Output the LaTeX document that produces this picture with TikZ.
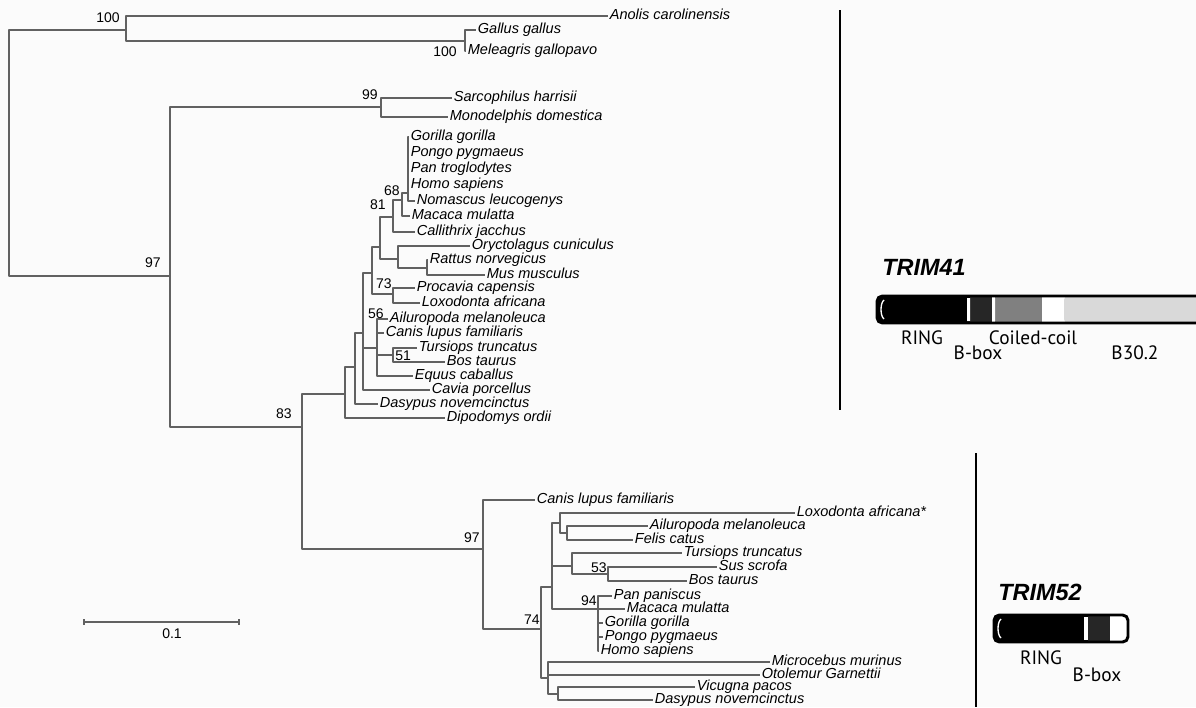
\documentclass[tikz,border=0pt]{standalone}
\usepackage{fontspec}
\setmainfont{Liberation Sans}
\newfontfamily\domfont{PT Sans}
\begin{document}
\begin{tikzpicture}[x=0.75pt, y=-0.75pt, line join=round,
  br/.style={draw=black!62, line width=0.8pt},
  leaf/.style={anchor=west, inner xsep=1.2pt, inner ysep=0pt, text height=7.8pt, text depth=2.2pt, font=\fontsize{10.9}{12}\selectfont\itshape},
  boot/.style={inner sep=0pt, font=\fontsize{10.5}{12}\selectfont},
  dom/.style={inner sep=0pt, font=\fontsize{14.5}{16}\selectfont\domfont},
  trim/.style={anchor=west, inner sep=0pt, font=\fontsize{17.6}{20}\selectfont\bfseries\itshape},
  sep/.style={line width=2.2pt}]
 \fill[black!1.5] (0,0) rectangle (1196,707);
 \useasboundingbox (0,0) rectangle (1196,707);
 % internal nodes of the tree
 \coordinate (root) at (9,153);
 \coordinate (n100) at (126,30);  \coordinate (birds) at (465,41);
 \coordinate (n97) at (170,276);  \coordinate (n99) at (381,107);
 \coordinate (n83) at (302,427);
 \coordinate (x4) at (345,394);   \coordinate (x3) at (355,367);
 \coordinate (x2) at (363,333);   \coordinate (x1) at (372,273);
 \coordinate (pg) at (380,247);   \coordinate (n81) at (393,217);
 \coordinate (n68) at (402,200);  \coordinate (apes) at (408,193);
 \coordinate (glires) at (398,259); \coordinate (rod) at (427,268);
 \coordinate (n73) at (393,294);  \coordinate (n56) at (377,348);
 \coordinate (n51) at (393,355);
 \coordinate (n97b) at (483,549); \coordinate (n74) at (541,629);
 \coordinate (c1) at (552,587);   \coordinate (carn) at (560,523);
 \coordinate (ailfel) at (567,533); \coordinate (cet) at (572,566);
 \coordinate (n53) at (608,574);  \coordinate (n94) at (598,609);
 \coordinate (c2) at (548,678);   \coordinate (vd) at (558,694);
 % TRIM41 leaves
 \path
 (608,16) node[leaf] (anol) {Anolis carolinensis}
 (476,30) node[leaf] (gall) {Gallus gallus}
 (466,51) node[leaf] (mele) {Meleagris gallopavo}
 (452,98) node[leaf] (sarc) {Sarcophilus harrisii}
 (448,117) node[leaf] (mono) {Monodelphis domestica}
 (409,137) node[leaf] (gori1) {Gorilla gorilla}
 (409,153) node[leaf] (pong1) {Pongo pygmaeus}
 (409,169) node[leaf] (pant) {Pan troglodytes}
 (409,185) node[leaf] (homo1) {Homo sapiens}
 (415,201) node[leaf] (noma) {Nomascus leucogenys}
 (410,216) node[leaf] (maca1) {Macaca mulatta}
 (415,232) node[leaf] (call) {Callithrix jacchus}
 (470,246) node[leaf] (oryc) {Oryctolagus cuniculus}
 (428,260) node[leaf] (ratt) {Rattus norvegicus}
 (485,275) node[leaf] (musm) {Mus musculus}
 (415,288) node[leaf] (proc) {Procavia capensis}
 (420,303) node[leaf] (loxo1) {Loxodonta africana}
 (388,319) node[leaf] (ailu1) {Ailuropoda melanoleuca}
 (384,333) node[leaf] (cani1) {Canis lupus familiaris}
 (417,348) node[leaf] (turs1) {Tursiops truncatus}
 (445,362) node[leaf] (bost1) {Bos taurus}
 (413,376) node[leaf] (equu) {Equus caballus}
 (430,390) node[leaf] (cavi) {Cavia porcellus}
 (378,404) node[leaf] (dasy1) {Dasypus novemcinctus}
 (445,418) node[leaf] (dipo) {Dipodomys ordii};
 % TRIM52 leaves
 \path
 (535,500) node[leaf] (cani2) {Canis lupus familiaris}
 (795,513) node[leaf] (loxo2) {Loxodonta africana*}
 (648,526) node[leaf] (ailu2) {Ailuropoda melanoleuca}
 (633,540) node[leaf] (feli) {Felis catus}
 (682,553) node[leaf] (turs2) {Tursiops truncatus}
 (717,567) node[leaf] (susc) {Sus scrofa}
 (687,581) node[leaf] (bost2) {Bos taurus}
 (612,596) node[leaf] (panp) {Pan paniscus}
 (625,609) node[leaf] (maca2) {Macaca mulatta}
 (603,623) node[leaf] (gori2) {Gorilla gorilla}
 (603,637) node[leaf] (pong2) {Pongo pygmaeus}
 (599,651) node[leaf] (homo2) {Homo sapiens}
 (770,662) node[leaf] (micr) {Microcebus murinus}
 (760,675) node[leaf] (otol) {Otolemur Garnettii}
 (695,687) node[leaf] (vicu) {Vicugna pacos}
 (653,700) node[leaf] (dasy2) {Dasypus novemcinctus};
 % branches
 \draw[br] (root) |- (n100) (root) |- (n97)
  (n100) |- (anol) (n100) |- (birds) (birds) |- (gall) (birds) |- (mele)
  (n97) |- (n99) (n97) |- (n83) (n99) |- (sarc) (n99) |- (mono)
  (n83) |- (x4) (n83) |- (n97b)
  (x4) |- (x3) (x4) |- (dipo) (x3) |- (x2) (x3) |- (dasy1)
  (x2) |- (x1) (x2) |- (n56) (x2) |- (cavi)
  (x1) |- (pg) (x1) |- (n73) (pg) |- (n81) (pg) |- (glires)
  (n81) |- (n68) (n81) |- (call) (n68) |- (apes) (n68) |- (maca1)
  (apes) |- (gori1) (apes) |- (pong1) (apes) |- (pant) (apes) |- (homo1) (apes) |- (noma)
  (glires) |- (oryc) (glires) |- (rod) (rod) |- (ratt) (rod) |- (musm)
  (n73) |- (proc) (n73) |- (loxo1)
  (n56) |- (ailu1) (n56) |- (cani1) (n56) |- (n51) (n56) |- (equu)
  (n51) |- (turs1) (n51) |- (bost1);
 \draw[br] (n97b) |- (cani2) (n97b) |- (n74) (n74) |- (c1) (n74) |- (c2)
  (c1) |- (carn) (c1) |- (cet) (c1) |- (n94)
  (carn) |- (loxo2) (carn) |- (ailfel) (ailfel) |- (ailu2) (ailfel) |- (feli)
  (cet) |- (turs2) (cet) |- (n53) (n53) |- (susc) (n53) |- (bost2)
  (n94) |- (panp) (n94) |- (maca2) (n94) |- (gori2) (n94) |- (pong2) (n94) |- (homo2)
  (c2) |- (micr) (c2) |- (otol) (c2) |- (vd) (vd) |- (vicu) (vd) |- (dasy2);
 % bootstrap values
 \path
 (120,18) node[boot, anchor=east] (b100a) {100}
 (457,52) node[boot, anchor=east] (b100b) {100}
 (378,95) node[boot, anchor=east] (b99) {99}
 (161,263) node[boot, anchor=east] (b97a) {97}
 (292,414) node[boot, anchor=east] (b83) {83}
 (400,191) node[boot, anchor=east] (b68) {68}
 (386,205) node[boot, anchor=east] (b81) {81}
 (392,284) node[boot, anchor=east] (b73) {73}
 (384,314) node[boot, anchor=east] (b56) {56}
 (395,356) node[boot, anchor=west] (b51) {51}
 (480,538) node[boot, anchor=east] (b97b) {97}
 (540,620) node[boot, anchor=east] (b74) {74}
 (607,568) node[boot, anchor=east] (b53) {53}
 (597,601) node[boot, anchor=east] (b94) {94};
 % scale bar
 \coordinate (sb1) at (84,622); \coordinate (sb2) at (239,622);
 \draw[br] (sb1) -- (sb2) (sb1) ++(0,-3) -- ++(0,6) (sb2) ++(0,-3) -- ++(0,6);
 \node[boot] (sblab) at (172,634) {0.1};
 % separators
 \draw[sep] (840,10) -- (840,410);
 \draw[sep] (976,453) -- (976,707);
 % TRIM41 domains
 \node[trim] (t41) at (882,267) {TRIM41};
 \begin{scope}
 \clip (0,0) rectangle (1196,707);
 \fill[white, rounded corners=4] (877,296) rectangle (1215,323);
 \fill[black, rounded corners=4] (877,296) rectangle (990,323);
 \fill[black!85] (970,296) rectangle (992,323);
 \fill[black!50] (995,296) rectangle (1042,323);
 \fill[white] (1042,296) rectangle (1064,323);
 \fill[black!15, rounded corners=3] (1064,296) rectangle (1215,323);
 \fill[white] (967,298) rectangle (970,321) (992,298) rectangle (995,321);
 \draw[line width=2.2pt, rounded corners=4] (877,296) rectangle (1215,323);
 \draw[white, line width=1pt] (884,300) .. controls (880,303) and (880,316) .. (884,319);
 \end{scope}
 \node[dom] (ring41) at (922,338) {RING};
 \node[dom] (bbox41) at (978,353) {B-box};
 \node[dom] (cc41) at (1033,338) {Coiled-coil};
 \node[dom] (b302) at (1135,353) {B30.2};
 % TRIM52 domains
 \node[trim] (t52) at (998,592) {TRIM52};
 \fill[white, rounded corners=4] (994,615) rectangle (1128,642);
 \fill[black, rounded corners=4] (994,615) rectangle (1100,642);
 \fill[black!85] (1088,615) rectangle (1110,642);
 \fill[white] (1084,617) rectangle (1088,640);
 \draw[line width=2.2pt, rounded corners=4] (994,615) rectangle (1128,642);
 \draw[white, line width=1pt] (1001,619) .. controls (997,622) and (997,635) .. (1001,638);
 \node[dom] (ring52) at (1041,658) {RING};
 \node[dom] (bbox52) at (1097,675) {B-box};
\end{tikzpicture}
\end{document}
